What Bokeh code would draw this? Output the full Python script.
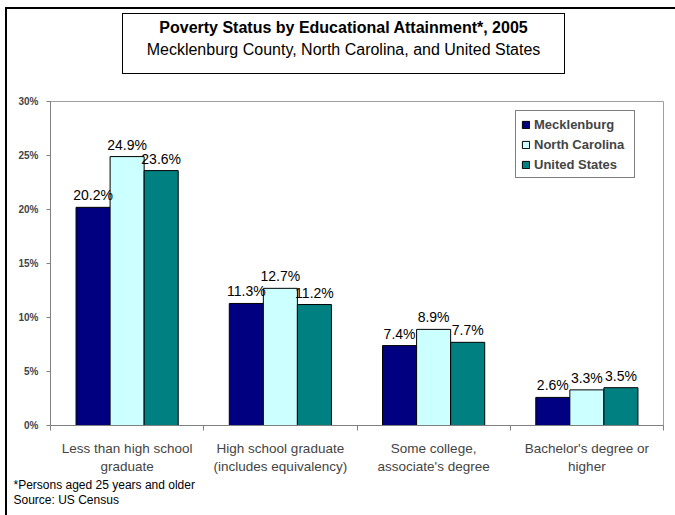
from bokeh.plotting import figure
from bokeh.models import (ColumnDataSource, Range1d, FixedTicker, PrintfTickFormatter,
                          LabelSet, Legend, LegendItem, Title, Div)
from bokeh.core.properties import value
from bokeh.layouts import column, row
from bokeh.embed import file_html
from bokeh.resources import INLINE

title_text = "Poverty Status by Educational Attainment*, 2005"
subtitle_text = "Mecklenburg County, North Carolina, and United States"
footnotes = ["*Persons aged 25 years and older", "Source: US Census"]
categories = ["Less than high school\ngraduate",
              "High school graduate\n(includes equivalency)",
              "Some college,\nassociate's degree",
              "Bachelor's degree or\nhigher"]
series_names = ["Mecklenburg", "North Carolina", "United States"]
mecklenburg = [20.2, 11.3, 7.4, 2.6]
north_carolina = [24.9, 12.7, 8.9, 3.3]
united_states = [23.6, 11.2, 7.7, 3.5]
y_ticks = [0, 5, 10, 15, 20, 25, 30]

colors = ["#000080", "#CCFFFF", "#008080"]
series_values = [mecklenburg, north_carolina, united_states]

ARIAL = "Liberation Sans"

# ---------- header (title box + outer frame top) ----------
title_html = (
    '<div style="position:relative;width:675px;height:93px;overflow:hidden;">'
    '<div style="position:absolute;left:5px;top:7px;width:670px;height:2px;background:#000;"></div>'
    '<div style="position:absolute;left:5px;top:7px;width:2px;height:86px;background:#000;"></div>'
    '<div style="position:absolute;left:122px;top:13px;width:443px;height:61px;'
    'border:1px solid #000;background:#fff;text-align:center;'
    "font-family:'Liberation Sans',Arial,sans-serif;font-size:16px;line-height:22px;color:#000;\">"
    '<div style="font-weight:bold;margin-top:3px;">' + title_text + '</div>'
    '<div>' + subtitle_text + '</div>'
    '</div></div>'
)
header = Div(text=title_html, width=675, height=93, margin=(0, 0, 0, 0))

left_line = Div(text='<div style="margin-left:5px;width:2px;height:422px;background:#000;"></div>',
                width=7, height=422, margin=(0, 0, 0, 0))

# ---------- chart ----------
p = figure(width=668, height=422, output_backend="svg", toolbar_location=None, title=None,
           x_range=Range1d(0, len(categories)), y_range=Range1d(0, 30),
           min_border_left=43, min_border_right=12, min_border_top=8, min_border_bottom=90,
           background_fill_color="white", border_fill_color="white")
p.xgrid.visible = False
p.ygrid.visible = False
p.outline_line_color = "#a0a0a0"
p.outline_line_width = 1

bar_w = 1 / 4.5
items = []
for j, (name, vals, col) in enumerate(zip(series_names, series_values, colors)):
    xs = [i + 0.5 + (j - 1) * bar_w for i in range(len(categories))]
    src = ColumnDataSource(dict(x=xs, top=vals, lab=["%.1f%%" % v for v in vals]))
    r = p.vbar(x="x", top="top", width=bar_w, source=src, fill_color=col,
               line_color="#000000", line_width=1)
    items.append(LegendItem(label=name, renderers=[r]))
    p.add_layout(LabelSet(x="x", y="top", text="lab", source=src, y_offset=4,
                          text_align="center", text_baseline="bottom",
                          text_font=value(ARIAL), text_font_size=value("14px"),
                          text_color="black"))

p.yaxis.ticker = FixedTicker(ticks=y_ticks)
p.yaxis.formatter = PrintfTickFormatter(format="%d%%")
p.yaxis.major_label_text_font = ARIAL
p.yaxis.major_label_text_font_style = "bold"
p.yaxis.major_label_text_font_size = "10px"
p.yaxis.major_tick_out = 4
p.yaxis.major_tick_in = 0
p.yaxis.minor_tick_line_color = None
p.yaxis.major_label_standoff = 8
p.yaxis.axis_line_color = "#808080"
p.yaxis.major_tick_line_color = "#808080"

centers = [i + 0.5 for i in range(len(categories))]
p.xaxis.ticker = FixedTicker(ticks=centers, minor_ticks=list(range(len(categories) + 1)))
p.xaxis.major_label_overrides = {c: lab for c, lab in zip(centers, categories)}
p.xaxis.major_tick_out = 0
p.xaxis.major_tick_in = 0
p.xaxis.minor_tick_out = 5
p.xaxis.minor_tick_in = 0
p.xaxis.minor_tick_line_color = "#808080"
p.xaxis.axis_line_color = "#808080"
p.xaxis.major_label_text_font = ARIAL
p.xaxis.major_label_text_font_size = "13.5px"
p.xaxis.major_label_standoff = 10

legend = Legend(items=items, location=(465, 247), orientation="vertical",
                label_text_font=ARIAL, label_text_font_style="bold",
                label_text_font_size="13px", glyph_width=9, glyph_height=9,
                label_height=16, label_width=95, label_standoff=4, spacing=4,
                padding=5, margin=0,
                border_line_color="black", border_line_width=1,
                background_fill_color="white", background_fill_alpha=1)
p.add_layout(legend, "center")

for k, t in enumerate(footnotes):
    p.add_layout(Title(text=t, align="left", offset=-37, standoff=(-2 if k == 0 else 0),
                       text_font=ARIAL, text_font_style="normal",
                       text_font_size="12px", text_color="black"), "below")

layout = column(header, row(left_line, p, spacing=0), spacing=0)
open("out.html", "w").write(file_html(layout, INLINE))
